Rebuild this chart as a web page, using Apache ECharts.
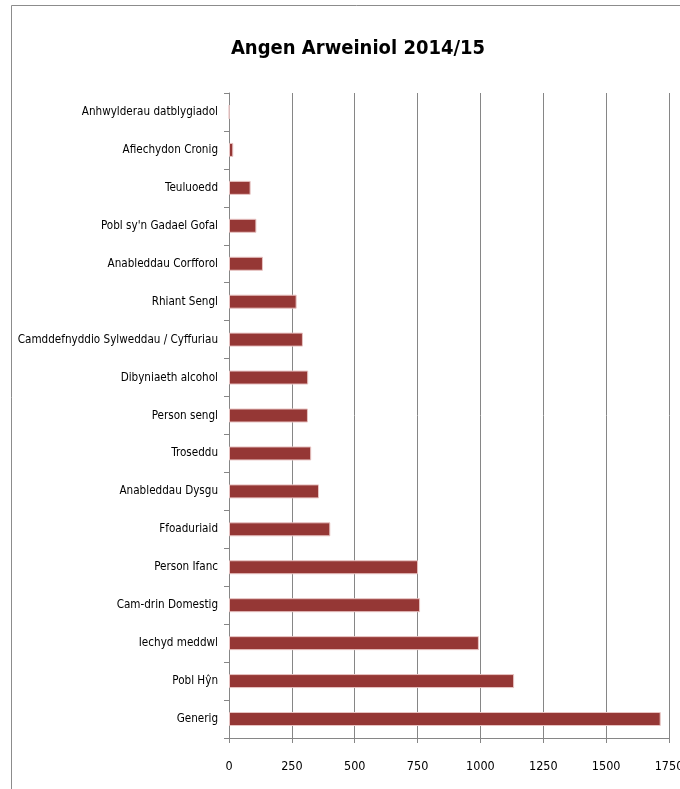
<!DOCTYPE html>
<html>
<head>
<meta charset="utf-8">
<script src="https://cdn.jsdelivr.net/npm/echarts@6/dist/echarts.min.js"></script>
<style>
html,body{margin:0;padding:0;overflow:hidden;background:#fff;width:680px;height:789px;}
#chart{width:700px;height:789px;}
</style>
</head>
<body>
<div id="chart"></div>
<script>
const categories = [
  "Anhwylderau datblygiadol",
  "Afiechydon Cronig",
  "Teuluoedd",
  "Pobl sy'n Gadael Gofal",
  "Anableddau Corfforol",
  "Rhiant Sengl",
  "Camddefnyddio Sylweddau / Cyffuriau",
  "Dibyniaeth alcohol",
  "Person sengl",
  "Troseddu",
  "Anableddau Dysgu",
  "Ffoaduriaid",
  "Person Ifanc",
  "Cam-drin Domestig",
  "Iechyd meddwl",
  "Pobl Hŷn",
  "Generig"
];
const values = [1, 17, 86, 109, 135, 269, 294, 315, 314, 327, 358, 403, 752, 760, 994, 1134, 1717];
const xTicks = { min: 0, max: 1750, interval: 250 };
const titleText = "Angen Arweiniol 2014/15";

const FONT = "'DejaVu Sans Condensed', sans-serif";
const chart = echarts.init(document.getElementById('chart'), null, {renderer: 'canvas'});
chart.setOption({
  animation: false,
  backgroundColor: '#ffffff',
  title: {
    text: titleText,
    left: 353, top: 34, textAlign: 'center',
    textStyle: {fontFamily: FONT, fontSize: 20, fontWeight: 'bold', color: '#000'}
  },
  graphic: [{
    type: 'rect',
    shape: {x: 11.5, y: 5.5, width: 800, height: 900},
    style: {fill: 'none', stroke: '#8c8c8c', lineWidth: 1},
    silent: true, z: -1
  }],
  grid: {left: 229, right: 31, top: 93, bottom: 51, containLabel: false, outerBoundsMode: 'none'},
  xAxis: {
    type: 'value', min: xTicks.min, max: xTicks.max, interval: xTicks.interval,
    axisLine: {show: true, lineStyle: {color: '#868686', width: 1}},
    axisTick: {show: true, length: 5, lineStyle: {color: '#868686'}},
    splitLine: {show: true, lineStyle: {color: '#868686', width: 1}},
    axisLabel: {fontFamily: FONT, fontSize: 12.5, color: '#000', margin: 22, formatter: v => String(v)}
  },
  yAxis: {
    type: 'category', data: categories, inverse: true,
    axisLine: {show: true, lineStyle: {color: '#868686', width: 1}},
    axisTick: {show: true, length: 5, lineStyle: {color: '#868686'}},
    axisLabel: {fontFamily: FONT, fontSize: 11.6, color: '#000', margin: 11}
  },
  series: [{
    type: 'bar', data: values, barWidth: 14,
    itemStyle: {color: '#953735', borderColor: '#e8c4c3', borderWidth: 1}
  }]
});
</script>
</body>
</html>
